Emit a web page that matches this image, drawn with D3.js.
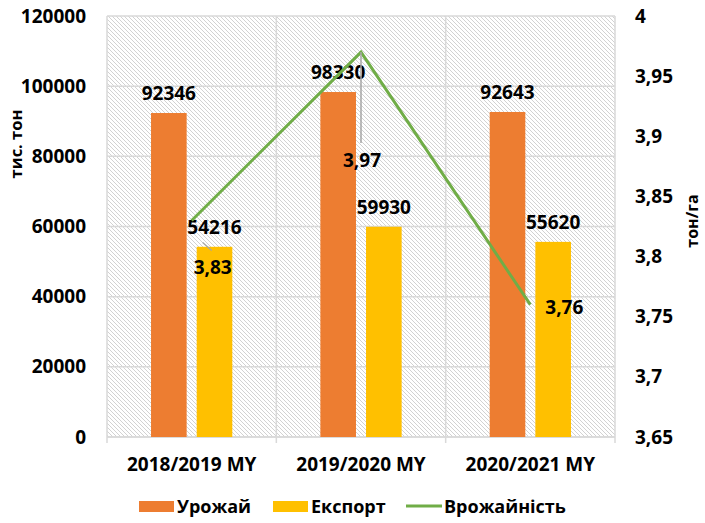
<!DOCTYPE html>
<html><head><meta charset="utf-8">
<script src="https://cdn.jsdelivr.net/npm/d3@7"></script>
<style>
body{margin:0;background:#fff;}
text{font-family:"Open Sans","Noto Sans",sans-serif;font-weight:700;fill:#000;}
</style></head>
<body>
<svg id="chart" width="705" height="523"></svg>
<script>
const categories = ["2018/2019 MY", "2019/2020 MY", "2020/2021 MY"];
const harvest = [92346, 98330, 92643];
const exportVals = [54216, 59930, 55620];
const yieldVals = [3.83, 3.97, 3.76];
const yieldLabels = ["3,83", "3,97", "3,76"];
const leftTicks = [0, 20000, 40000, 60000, 80000, 100000, 120000];
const rightTicks = [3.65, 3.7, 3.75, 3.8, 3.85, 3.9, 3.95, 4];
const seriesNames = ["Урожай", "Експорт", "Врожайність"];
const colors = {"Урожай": "#ED7D31", "Експорт": "#FFC000", "Врожайність": "#70AD47"};

const svg = d3.select("#chart");
const L = 107, R = 615, T = 16, B = 437;

const x = d3.scaleBand().domain(categories).range([L, R]).padding(0);
const bw = x.bandwidth();
const xs = d3.scaleBand().domain(["Урожай", "Експорт"]).range([0.26 * bw, 0.74 * bw]).paddingInner(0.22).paddingOuter(0);
const y = d3.scaleLinear().domain([0, 120000]).range([B, T]);
const y2 = d3.scaleLinear().domain([3.65, 4]).range([B, T]);

// hatch pattern
const defs = svg.append("defs");
const pat = defs.append("pattern").attr("id", "hatch").attr("patternUnits", "userSpaceOnUse")
  .attr("width", 4).attr("height", 4);
pat.append("rect").attr("width", 4).attr("height", 4).attr("fill", "#fff");
pat.append("path").attr("d", "M-1,-1 L5,5 M-1,3 L1,5 M3,-1 L5,1")
  .attr("stroke", "#cdcdcd").attr("stroke-width", 0.9);

svg.append("rect").attr("x", L).attr("y", T).attr("width", R - L).attr("height", B - T)
  .attr("fill", "url(#hatch)");

// horizontal gridlines
svg.append("g").selectAll("line").data(leftTicks).join("line")
  .attr("x1", L).attr("x2", R).attr("y1", d => y(d)).attr("y2", d => y(d))
  .attr("stroke", "#d9d9d9").attr("stroke-width", 1.5);
// vertical gridlines at category boundaries
const bounds = categories.map(c => x(c)).concat([R]);
svg.append("g").selectAll("line").data(bounds).join("line")
  .attr("x1", d => d).attr("x2", d => d).attr("y1", T).attr("y2", B)
  .attr("stroke", "#d9d9d9").attr("stroke-width", 1.5);
// bottom axis line and ticks
svg.append("line").attr("x1", L).attr("x2", R).attr("y1", B).attr("y2", B).attr("stroke", "#d9d9d9").attr("stroke-width", 1.5);
svg.append("g").selectAll("line").data(bounds).join("line")
  .attr("x1", d => d).attr("x2", d => d).attr("y1", B).attr("y2", B + 6)
  .attr("stroke", "#d9d9d9").attr("stroke-width", 1.5);

// bars
const data = categories.map((c, i) => ({c, h: harvest[i], e: exportVals[i], yv: yieldVals[i], yl: yieldLabels[i]}));
const g = svg.append("g");
g.selectAll("rect.h").data(data).join("rect").attr("class", "h")
  .attr("x", d => x(d.c) + xs("Урожай")).attr("width", xs.bandwidth())
  .attr("y", d => y(d.h)).attr("height", d => B - y(d.h)).attr("fill", colors["Урожай"]);
g.selectAll("rect.e").data(data).join("rect").attr("class", "e")
  .attr("x", d => x(d.c) + xs("Експорт")).attr("width", xs.bandwidth())
  .attr("y", d => y(d.e)).attr("height", d => B - y(d.e)).attr("fill", colors["Експорт"]);

// line
const cx = c => x(c) + bw / 2;
const line = d3.line().x(d => cx(d.c)).y(d => y2(d.yv));
svg.append("path").datum(data).attr("d", line).attr("fill", "none")
  .attr("stroke", colors["Врожайність"]).attr("stroke-width", 3);

// leader lines for yield labels
svg.append("line").attr("x1", cx(categories[1])).attr("x2", cx(categories[1]))
  .attr("y1", y2(yieldVals[1])).attr("y2", y2(yieldVals[1]) + 91)
  .attr("stroke", "#a6a6a6").attr("stroke-width", 1.5);
svg.append("line").attr("x1", cx(categories[0]) + 11).attr("x2", cx(categories[0]) + 20)
  .attr("y1", y2(yieldVals[0]) + 22).attr("y2", y2(yieldVals[0]) + 30)
  .attr("stroke", "#a6a6a6").attr("stroke-width", 1.2);

// bar labels
const fs = 19;
g.selectAll("text.hl").data(data).join("text").attr("class", "hl")
  .attr("x", d => x(d.c) + xs("Урожай") + xs.bandwidth() / 2).attr("y", d => y(d.h) - 13)
  .attr("text-anchor", "middle").style("font-size", fs + "px").text(d => d.h);
g.selectAll("text.el").data(data).join("text").attr("class", "el")
  .attr("x", d => x(d.c) + xs("Експорт") + xs.bandwidth() / 2).attr("y", d => y(d.e) - 13)
  .attr("text-anchor", "middle").style("font-size", fs + "px").text(d => d.e);

// yield labels
const yOff = [[21, 54], [1, 115], [34, 9]];
svg.selectAll("text.yl").data(data).join("text").attr("class", "yl")
  .attr("x", (d, i) => cx(d.c) + yOff[i][0]).attr("y", (d, i) => y2(d.yv) + yOff[i][1])
  .attr("text-anchor", "middle").style("font-size", fs + "px").text(d => d.yl);

// left axis
svg.append("g").attr("transform", `translate(${L},0)`)
  .call(d3.axisLeft(y).tickValues(leftTicks).tickSize(0).tickPadding(21).tickFormat(d3.format("d")))
  .call(a => a.select(".domain").remove())
  .selectAll("text").style("font-size", fs + "px").style("font-family", "'Open Sans'").style("font-weight", 700).attr("fill", "#000");
// right axis
svg.append("g").attr("transform", `translate(${R},0)`)
  .call(d3.axisRight(y2).tickValues(rightTicks).tickSize(0).tickPadding(20).tickFormat(d => String(+d.toFixed(2)).replace(".", ",")))
  .call(a => a.select(".domain").remove())
  .selectAll("text").style("font-size", fs + "px").style("font-family", "'Open Sans'").style("font-weight", 700).attr("fill", "#000");

// category labels
svg.append("g").attr("transform", `translate(0,${B})`)
  .call(d3.axisBottom(x).tickSize(0).tickPadding(21))
  .call(a => a.select(".domain").remove())
  .selectAll("text").style("font-size", fs + "px").style("font-family", "'Open Sans'").style("font-weight", 700).attr("fill", "#000");

// axis titles
svg.append("text").attr("transform", "translate(22,144) rotate(-90)").attr("text-anchor", "middle")
  .style("font-size", "16.5px").text("тис. тон");
svg.append("text").attr("transform", "translate(698,221) rotate(-90)").attr("text-anchor", "middle")
  .style("font-size", "16px").text("тон/га");

// legend
const leg = svg.append("g");
const legX = [139, 273, 406];
seriesNames.forEach((n, i) => {
  const gx = legX[i];
  if (n === "Врожайність") {
    leg.append("line").attr("x1", gx).attr("x2", gx + 36).attr("y1", 506).attr("y2", 506)
      .attr("stroke", colors[n]).attr("stroke-width", 3);
  } else {
    leg.append("rect").attr("x", gx).attr("y", 501).attr("width", 35).attr("height", 11).attr("fill", colors[n]);
  }
  leg.append("text").attr("x", gx + 38).attr("y", 513).style("font-size", "18px").text(n);
});
</script>
</body></html>
